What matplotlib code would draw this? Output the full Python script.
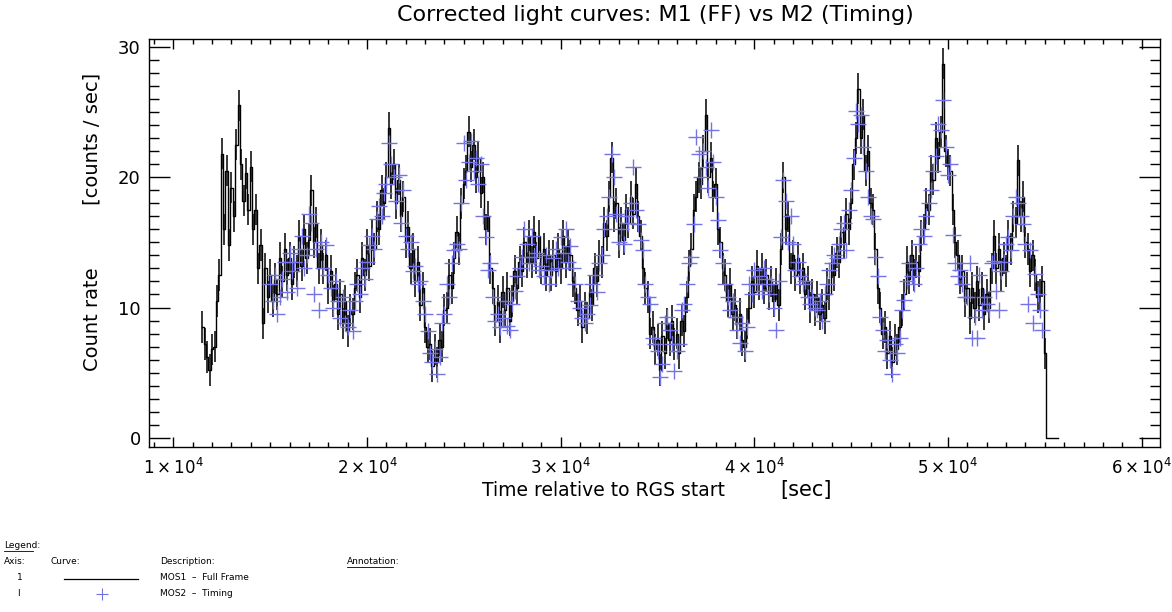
import numpy as np
import matplotlib
matplotlib.use('Agg')
import matplotlib.pyplot as plt
from matplotlib.ticker import MultipleLocator, FuncFormatter

# MOS1 (full frame) light curve, 125 s bins from 11500 s
m1_start, m1_step = 11500, 125
m1_rate = [
    8.5, 7.2, 6.2, 5.2, 6.8, 7.0, 10.5, 12.5,
    21.8, 16.0, 20.5, 14.8, 19.2, 17.0, 22.5, 25.5,
    21.0, 18.2, 20.3, 17.5, 20.8, 16.0, 17.5, 13.0,
    14.8, 8.8, 13.0, 10.8, 12.5, 10.5, 12.2, 11.0,
    13.8, 12.0, 14.5, 12.5, 13.8, 11.8, 13.5, 12.8,
    15.5, 13.2, 16.0, 13.8, 15.2, 19.0, 15.0, 16.5,
    13.0, 14.8, 13.0, 14.0, 11.5, 12.8, 10.5, 11.8,
    9.5, 11.0, 8.8, 10.5, 8.2, 9.8, 9.5, 11.5,
    12.5, 10.8, 13.8, 12.5, 14.8, 13.2, 15.5, 14.5,
    17.0, 16.0, 19.0, 18.0, 20.0, 23.8, 19.5, 21.0,
    18.0, 19.8, 17.0, 18.5, 15.0, 16.2, 13.0, 14.5,
    12.0, 13.5, 10.2, 11.5, 8.5, 7.0, 7.2, 5.5,
    6.8, 5.8, 7.5, 7.0, 9.8, 10.0, 12.5, 11.5,
    13.8, 15.8, 14.5, 18.0, 19.5, 20.5, 23.5, 20.8,
    22.5, 20.0, 21.5, 18.8, 20.0, 16.0, 17.0, 13.0,
    11.5, 9.0, 10.5, 8.5, 11.2, 9.8, 11.5, 9.0,
    10.5, 12.8, 11.5, 13.5, 12.8, 15.0, 13.5, 15.5,
    13.5, 15.8, 13.8, 15.5, 13.0, 14.5, 12.5, 14.0,
    12.5, 14.0, 12.8, 14.5, 13.0, 15.5, 13.5, 14.8,
    14.0, 12.0, 11.5, 9.8, 10.5, 8.5, 10.0, 9.2,
    11.2, 10.2, 13.0, 12.0, 14.0, 13.5, 16.5, 15.5,
    18.5, 21.5, 17.0, 18.0, 15.0, 16.5, 15.2, 17.5,
    16.5, 18.5, 17.2, 19.5, 17.0, 15.5, 13.0, 11.5,
    10.8, 8.0, 8.5, 6.8, 7.5, 5.2, 7.8, 6.5,
    8.8, 7.5, 9.0, 7.2, 8.0, 6.5, 9.0, 8.2,
    10.8, 13.2, 14.5, 17.5, 18.5, 20.0, 19.5, 22.0,
    24.8, 20.0, 21.5, 18.5, 19.5, 16.0, 15.0, 13.0,
    12.5, 10.5, 11.8, 9.5, 10.2, 8.8, 9.5, 7.5,
    7.0, 8.8, 10.0, 12.0, 11.2, 13.2, 11.8, 13.0,
    11.5, 12.5, 11.0, 12.0, 10.5, 11.8, 10.2, 14.5,
    20.0, 16.0, 17.0, 13.0, 14.0, 12.5, 13.8, 12.2,
    13.0, 11.0, 12.0, 10.0, 11.0, 9.8, 10.8, 9.5,
    10.2, 9.2, 11.8, 11.0, 13.5, 12.5, 14.2, 13.5,
    15.8, 15.0, 17.2, 16.0, 18.0, 21.0, 23.0, 26.8,
    23.0, 24.8, 20.5, 22.0, 18.0, 17.5, 14.5, 11.5,
    10.0, 8.0, 8.5, 6.5, 7.8, 5.8, 7.5, 6.8,
    8.5, 9.8, 11.0, 13.5, 12.2, 14.0, 12.5, 13.5,
    12.8, 15.5, 16.0, 18.0, 17.5, 20.5, 19.8, 23.0,
    21.5, 23.5, 28.7, 22.0, 21.0, 20.5, 17.5, 15.0,
    14.0, 12.2, 12.8, 10.5, 11.5, 9.2, 11.5, 10.0,
    12.0, 10.2, 11.5, 9.5, 11.0, 10.0, 13.0, 15.5,
    13.0, 14.5, 12.5, 13.8, 12.8, 15.5, 14.5, 17.0,
    16.5, 21.3, 17.0, 18.5, 15.0, 14.5, 12.8, 14.0,
    12.5, 10.8, 11.0, 12.0, 6.5,
]
m1_err = 1.2  # typical 1-sigma error of a MOS1 bin
# end of the exposure: rate drops to zero
m1_tail_time = [55070, 55700]
m1_tail_rate = [0.0, 0.0]

# MOS2 (timing mode) light curve, 125 s bins from 15000 s
m2_start, m2_step = 15000, 125
m2_rate = [
    11.8, 10.5, 12.5, 9.5, 10.8, 12.2, 13.5, 11.2,
    14.2, 12.8, 13.5, 11.5, 14.5, 15.5, 13.0, 14.0,
    17.2, 16.5, 11.0, 14.5, 9.8, 15.0, 13.0, 14.8,
    12.5, 11.5, 10.0, 12.0, 10.5, 9.2, 10.8, 8.8,
    8.5, 9.8, 8.2, 10.5, 11.8, 11.0, 13.0, 12.2,
    13.5, 14.8, 15.5, 14.5, 16.8, 17.8, 17.0, 18.8,
    19.5, 22.6, 21.0, 20.0, 18.2, 20.2, 16.5, 19.0,
    15.5, 14.5, 15.0, 12.8, 13.2, 11.8, 12.0, 10.5,
    9.5, 8.2, 6.5, 5.8, 6.8, 4.9, 6.2, 8.8,
    9.5, 11.8, 10.8, 13.4, 14.4, 14.9, 14.5, 18.0,
    22.6, 19.8, 21.2, 22.8, 20.5, 21.5, 19.5, 21.0,
    17.0, 15.4, 12.9, 13.4, 10.8, 9.0, 9.5, 8.5,
    9.2, 10.5, 8.6, 8.3, 10.3, 11.3, 12.4, 13.0,
    13.9, 16.0, 14.9, 13.4, 15.5, 13.9, 14.2, 12.9,
    13.2, 12.4, 14.0, 11.8, 12.9, 13.8, 14.5, 13.0,
    15.4, 14.2, 16.0, 13.5, 14.7, 13.0, 11.8, 10.5,
    10.0, 9.2, 8.8, 9.5, 10.2, 11.8, 12.5, 11.2,
    13.4, 14.0, 16.0, 17.0, 18.5, 21.8, 20.0, 17.2,
    15.0, 16.0, 14.9, 17.0, 16.5, 18.0, 20.8, 17.5,
    16.4, 15.2, 14.4, 11.8, 10.8, 10.3, 7.7, 7.2,
    6.7, 4.7, 5.7, 8.8, 9.3, 8.3, 7.2, 5.1,
    6.7, 7.2, 9.8, 10.3, 11.8, 13.4, 13.9, 16.4,
    23.1, 21.8, 20.0, 22.0, 20.8, 19.2, 23.6, 21.2,
    18.5, 16.7, 14.4, 13.4, 11.8, 10.8, 9.8, 10.5,
    9.3, 8.3, 7.3, 8.8, 6.7, 8.5, 11.8, 11.0,
    12.9, 11.8, 12.4, 11.3, 13.0, 12.2, 11.0, 11.8,
    10.0, 8.3, 12.0, 15.4, 19.8, 18.2, 15.0, 17.0,
    14.9, 12.9, 13.5, 12.4, 11.8, 12.0, 10.8, 10.3,
    10.8, 10.0, 9.8, 10.5, 9.0, 11.0, 11.8, 12.9,
    13.4, 14.0, 13.8, 14.9, 16.0, 16.5, 14.4, 17.5,
    19.0, 21.5, 25.1, 24.1, 24.8, 22.3, 20.5, 18.5,
    17.0, 16.8, 13.9, 12.4, 9.3, 8.3, 6.7, 7.5,
    6.0, 4.9, 7.2, 6.5, 7.7, 9.8, 10.6, 12.0,
    13.4, 12.4, 11.8, 13.0, 14.9, 16.0, 15.5, 17.0,
    18.0, 19.0, 20.5, 21.6, 24.1, 23.6, 25.9, 22.3,
    20.2, 21.0, 15.6, 13.4, 12.4, 12.9, 11.8, 10.8,
    10.8, 13.4, 7.7, 9.3, 7.7, 12.5, 9.8, 10.8,
    10.3, 9.8, 13.4, 13.6, 11.3, 9.8, 12.8, 13.5,
    14.9, 15.4, 14.4, 17.0, 18.5, 18.0, 17.0, 16.4,
    14.9, 10.3, 14.4, 8.8, 12.6, 11.0, 9.8, 8.3,
]

title = 'Corrected light curves: M1 (FF) vs M2 (Timing)'
x_major = [10000, 20000, 30000, 40000, 50000, 60000]
y_major = [0, 10, 20, 30]

m1_time = m1_start + m1_step * np.arange(len(m1_rate))
m2_time = m2_start + m2_step * np.arange(len(m2_rate))

W, H = 1172, 612
fig = plt.figure(figsize=(W / 100, H / 100), dpi=100)
ax = fig.add_axes([149 / W, 1 - 447 / H, (1160 - 149) / W, (447 - 38.5) / H])

blue = '#7373e6'
ax.errorbar(m1_time, m1_rate, yerr=m1_err, fmt='none', ecolor='black', elinewidth=1.1, capsize=0)
ax.plot(m1_time, m1_rate, color='black', lw=1.0, drawstyle='steps-mid')
ax.plot([m1_time[-1]] + m1_tail_time, [m1_rate[-1]] + m1_tail_rate, color='black', lw=1.0,
        drawstyle='steps-post')
ax.plot(m2_time, m2_rate, ls='none', marker='+', ms=11, mew=1.0, color=blue)

ax.set_xlim(8740, 60950)
ax.set_ylim(-0.7, 30.64)
ax.set_xticks(x_major)
ax.set_yticks(y_major)
ax.xaxis.set_minor_locator(MultipleLocator(1000))
ax.yaxis.set_minor_locator(MultipleLocator(1))
ax.xaxis.set_major_formatter(FuncFormatter(lambda v, p: r'$%d\times10^4$' % round(v / 1e4)))
ax.tick_params(which='both', direction='in', top=True, right=True, width=1.0, colors='black')
ax.tick_params(axis='x', which='major', length=7, labelsize=12, pad=8)
ax.tick_params(axis='x', which='minor', length=3.5)
ax.tick_params(axis='y', which='major', length=15, labelsize=13, pad=6)
ax.tick_params(axis='y', which='minor', length=7)
for s in ax.spines.values():
    s.set_linewidth(1.0)

fig.text(655 / W, 1 - 15 / H, title, fontsize=16, ha='center', va='center')
fig.text(482 / W, 1 - 490 / H, 'Time relative to RGS start', fontsize=13.5, ha='left', va='center')
fig.text(780 / W, 1 - 490 / H, '[sec]', fontsize=15, ha='left', va='center')
fig.text(92 / W, 1 - 222 / H, 'Count rate          [counts / sec]', fontsize=14,
         rotation=90, ha='center', va='center')

# legend block under the plot
fs = 6.5
def put(x, y, s, **kw):
    return fig.text(x / W, 1 - y / H, s, fontsize=fs, va='center', **kw)

put(4, 546, 'Legend:')
fig.add_artist(plt.Line2D([4 / W, 33 / W], [1 - 551 / H] * 2, color='black', lw=0.6))
put(4, 562, 'Axis:')
put(50, 562, 'Curve:')
put(160, 562, 'Description:')
put(347, 562, 'Annotation:')
fig.add_artist(plt.Line2D([347 / W, 393 / W], [1 - 567 / H] * 2, color='black', lw=0.6))
put(17, 577, '1')
fig.add_artist(plt.Line2D([64 / W, 138 / W], [1 - 579 / H] * 2, color='black', lw=0.9))
put(160, 577, 'MOS1  \u2013  Full Frame')
put(17, 593, 'I')
fig.add_artist(plt.Line2D([102 / W], [1 - 594 / H], marker='+', ms=8, mew=0.8, color=blue))
put(160, 593, 'MOS2  \u2013  Timing')

fig.savefig('out.png', dpi=100)
